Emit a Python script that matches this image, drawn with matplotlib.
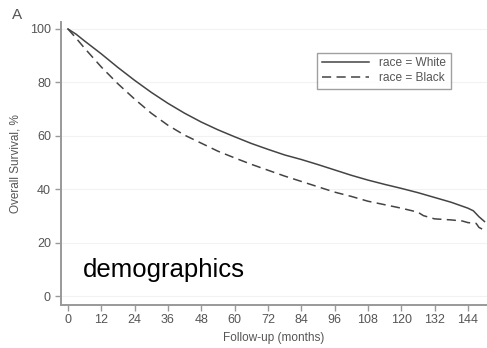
import matplotlib
matplotlib.use('Agg')
import matplotlib.pyplot as plt

plt.rcParams['font.family'] = ['Liberation Sans', 'DejaVu Sans']

# Kaplan-Meier style survival (%)
months_white = [0, 3, 6, 12, 18, 24, 30, 36, 42, 48, 54, 60, 66, 72, 78, 84, 90,
                96, 102, 108, 114, 120, 126, 132, 138, 144, 146, 148, 150]
surv_white = [100, 98, 95.5, 90.7, 85.6, 80.8, 76.3, 72.2, 68.5, 65.2, 62.3, 59.7,
              57.2, 55, 52.9, 51.2, 49.3, 47.3, 45.3, 43.5, 41.9, 40.4, 38.8, 37.0,
              35.2, 33.0, 32.0, 29.8, 28.0]

months_black = [0, 3, 6, 12, 18, 24, 30, 36, 42, 48, 54, 60, 66, 72, 78, 84, 90,
                96, 102, 108, 114, 120, 126, 128, 132, 138, 142, 144, 147, 148, 149.5]
surv_black = [100, 96.5, 92.8, 85.8, 79.5, 73.8, 68.5, 64.0, 60.3, 57.3, 54.3, 51.8,
              49.4, 47.2, 45.0, 43.0, 41.0, 39.0, 37.4, 35.6, 34.3, 33.0, 31.5, 30.2,
              29.0, 28.6, 28.2, 27.6, 27.3, 25.8, 25.0]

xticks = list(range(0, 145, 12))
yticks = [0, 20, 40, 60, 80, 100]

fig = plt.figure(figsize=(4.87, 3.48), dpi=100)
ax = fig.add_axes([0.1246, 0.1244, 0.8754, 0.8132])

line_col = '#444444'
ax.plot(months_white, surv_white, color=line_col, lw=1.1, label='race = White')
ax.plot(months_black, surv_black, color=line_col, lw=1.1, dashes=(6, 3.5),
        label='race = Black')

ax.set_xlim(-2.6, 150.9)
ax.set_ylim(-3.1, 102.7)
ax.set_xticks(xticks)
ax.set_yticks(yticks)

# light horizontal grid at y ticks
for y in yticks:
    ax.axhline(y, color='#f2f2f2', lw=0.8, zorder=0)

for s in ['top', 'right']:
    ax.spines[s].set_visible(False)
for s in ['left', 'bottom']:
    ax.spines[s].set_color('#999999')
    ax.spines[s].set_linewidth(1.4)

ax.tick_params(direction='out', length=4, width=1, color='#999999',
               labelcolor='#555555', labelsize=9, pad=3)

ax.set_xlabel('Follow-up (months)', fontsize=8.5, color='#555555', labelpad=4)
ax.set_ylabel('Overall Survival, %', fontsize=8.5, color='#555555', labelpad=6)

leg = ax.legend(loc='upper left', bbox_to_anchor=(0.588, 0.912), fontsize=8.6,
                frameon=True, fancybox=False, borderpad=0.4, handlelength=3.9,
                handletextpad=0.9, labelspacing=0.25)
leg.get_frame().set_edgecolor('#888888')
leg.get_frame().set_linewidth(1.0)
for t in leg.get_texts():
    t.set_color('#555555')

ax.text(5.4, 7.3, 'demographics', fontsize=18.5, color='black', va='baseline')
fig.text(0.025, 0.945, 'A', fontsize=11, color='#555555', va='baseline')

fig.savefig('out.png', dpi=100)
